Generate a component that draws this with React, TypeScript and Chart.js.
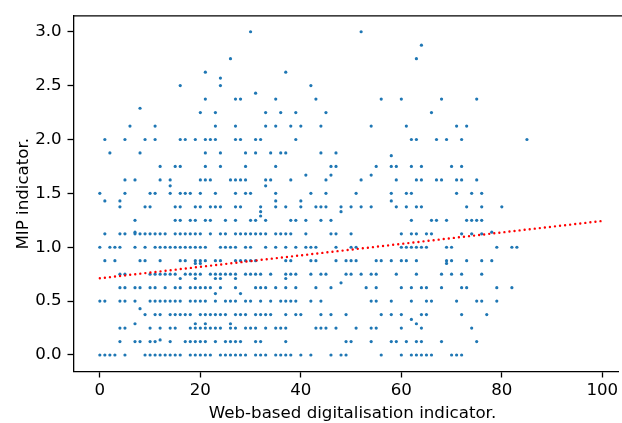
import { useEffect, useRef } from "react";
import { Chart, registerables } from "chart.js";

Chart.register(...registerables);

// MIP indicator levels (y) and the web-based digitalisation indicator values (x) found at each level
const mipLevels: number[] = [
  3.0, 2.875, 2.75, 2.625, 2.57, 2.5, 2.43, 2.375, 2.29, 2.25, 2.125, 2.0, 1.875, 1.85, 1.75, 1.67,
  1.625, 1.57, 1.5, 1.43, 1.375, 1.33, 1.29, 1.25, 1.14, 1.125, 1.0, 0.875, 0.85, 0.75, 0.71, 0.67,
  0.625, 0.57, 0.5, 0.43, 0.375, 0.33, 0.29, 0.25, 0.14, 0.125, 0.0,
];

const webAtLevel: number[][] = [
  [30, 52],
  [64],
  [26, 63],
  [21, 37],
  [24],
  [16, 24, 42],
  [31],
  [21, 27, 28, 35, 43, 56, 60, 68, 75],
  [8],
  [20, 23, 33, 36, 39, 45, 66],
  [6, 11, 23, 27, 33, 35, 38, 40, 44, 54, 61, 71, 73],
  [1, 5, 9, 11, 16, 17, 19, 21, 22, 23, 27, 28, 31, 32, 39, 62, 63, 67, 69, 72, 85],
  [2, 8, 21, 24, 29, 31, 34, 36, 37, 44, 47],
  [58],
  [12, 15, 16, 21, 24, 29, 35, 46, 47, 55, 58, 59, 62, 64, 70, 72],
  [41, 46, 54],
  [5, 7, 12, 14, 20, 21, 22, 26, 27, 28, 29, 33, 34, 38, 45, 52, 59, 63, 64, 67, 68, 71, 72, 75],
  [14, 33],
  [0, 5, 10, 11, 14, 16, 17, 18, 20, 23, 27, 29, 30, 35, 42, 45, 51, 58, 61, 62, 71, 74, 76],
  [1, 4, 35, 40, 58],
  [4, 9, 10, 15, 16, 19, 20, 22, 23, 24, 27, 28, 32, 35, 37, 40, 43, 44, 45, 48, 50, 52, 54, 59, 61, 63, 64, 73, 76, 80],
  [32, 48],
  [32],
  [7, 15, 16, 18, 19, 21, 22, 25, 27, 30, 31, 33, 38, 39, 41, 44, 46, 62, 66, 67, 69, 73, 74, 75, 76],
  [7, 78],
  [1, 4, 5, 7, 8, 9, 10, 11, 12, 13, 15, 16, 17, 18, 19, 20, 22, 24, 25, 27, 28, 29, 30, 31, 32, 33, 35, 36, 37, 38, 41, 46, 47, 50, 60, 62, 63, 65, 66, 72, 74, 76],
  [0, 2, 3, 4, 7, 9, 11, 12, 13, 14, 15, 16, 17, 18, 19, 20, 21, 24, 25, 26, 27, 29, 30, 33, 35, 37, 39, 41, 42, 43, 47, 50, 51, 60, 61, 62, 63, 64, 65, 69, 70, 79, 82, 83],
  [1, 3, 8, 9, 12, 16, 17, 19, 20, 21, 23, 24, 27, 28, 29, 30, 31, 37, 38, 42, 43, 47, 49, 50, 51, 55, 56, 58, 60, 61, 63, 69, 70, 73, 76, 78],
  [19, 20, 69],
  [4, 5, 10, 11, 12, 13, 14, 15, 17, 18, 19, 20, 22, 23, 24, 25, 26, 27, 29, 30, 31, 32, 34, 37, 38, 39, 42, 44, 45, 49, 50, 52, 54, 55, 59, 63, 68, 70, 72, 76],
  [16, 19, 23, 24, 27, 37],
  [48],
  [4, 5, 7, 8, 10, 11, 13, 15, 16, 18, 19, 20, 21, 22, 24, 27, 31, 32, 33, 35, 37, 39, 43, 46, 53, 55, 60, 62, 64, 65, 68, 72, 73, 79, 82],
  [23, 28],
  [0, 1, 4, 5, 7, 10, 11, 12, 13, 14, 15, 16, 18, 19, 20, 21, 23, 25, 26, 27, 29, 30, 32, 34, 36, 37, 38, 39, 42, 44, 54, 55, 58, 62, 65, 66, 71, 75, 76, 79],
  [8],
  [9, 11, 12, 14, 15, 16, 17, 18, 20, 21, 22, 23, 24, 25, 27, 28, 29, 31, 32, 33, 34, 37, 39, 40, 44, 46, 49, 56, 58, 60, 64, 65, 72, 77],
  [62],
  [7, 19, 21, 26, 63],
  [4, 5, 10, 12, 14, 15, 18, 19, 20, 21, 22, 23, 24, 26, 27, 29, 30, 31, 33, 35, 36, 37, 43, 44, 45, 47, 51, 54, 55, 60, 64, 74],
  [12],
  [4, 7, 8, 10, 11, 14, 17, 18, 19, 20, 21, 23, 25, 26, 27, 28, 31, 32, 37, 49, 50, 54, 58, 59, 61, 63, 64, 68, 75],
  [0, 1, 2, 3, 5, 9, 10, 11, 12, 13, 14, 15, 16, 18, 19, 20, 21, 22, 24, 25, 26, 27, 28, 29, 31, 32, 33, 35, 36, 37, 38, 40, 42, 46, 48, 49, 56, 60, 62, 63, 64, 65, 66, 70, 71, 72],
];

// Fitted trend line end points
const fitX: number[] = [0, 100];
const fitY: number[] = [0.712, 1.244];

// Tick labels
const xTicks: number[] = [0, 20, 40, 60, 80, 100];
const yTicks: number[] = [0, 0.5, 1.0, 1.5, 2.0, 2.5, 3.0];

const xTitle = "Web-based digitalisation indicator.";
const yTitle = "MIP indicator.";

const FONT = "'DejaVu Sans', sans-serif";
const FSIZE = 16.67;

const framePlugin = {
  id: "frame",
  afterDraw(chart: any) {
    const { ctx, chartArea, width } = chart;
    const { left, right, top, bottom } = chartArea;
    ctx.save();
    // top spine (the right spine lies outside the cropped picture)
    ctx.strokeStyle = "#000";
    ctx.lineWidth = 1.3;
    ctx.beginPath();
    ctx.moveTo(left, top);
    ctx.lineTo(width, top);
    ctx.stroke();
    // axis titles
    ctx.fillStyle = "#000";
    ctx.font = `${FSIZE}px ${FONT}`;
    ctx.textAlign = "center";
    ctx.textBaseline = "alphabetic";
    ctx.fillText(xTitle, 352.5, 418.3);
    ctx.translate(28, (top + bottom) / 2);
    ctx.rotate(-Math.PI / 2);
    ctx.fillText(yTitle, 0, 0);
    ctx.restore();
  },
};

export default function App() {
  const ref = useRef<HTMLCanvasElement | null>(null);

  useEffect(() => {
    if (!ref.current) return;
    const points: { x: number; y: number }[] = [];
    mipLevels.forEach((lvl, i) => {
      webAtLevel[i].forEach((x) => points.push({ x, y: lvl }));
    });
    const fit = fitX.map((x, i) => ({ x, y: fitY[i] }));

    const chart = new Chart(ref.current, {
      type: "scatter",
      data: {
        datasets: [
          {
            type: "line",
            data: fit,
            borderColor: "#ff0000",
            borderWidth: 2.4,
            borderDash: [0, 5.09],
            borderCapStyle: "round",
            pointRadius: 0,
            fill: false,
            order: 0,
          } as any,
          {
            data: points,
            backgroundColor: "#1f77b4",
            borderWidth: 0,
            pointRadius: 1.6,
            order: 1,
          },
        ],
      },
      options: {
        animation: false,
        responsive: false,
        layout: { padding: { left: 0, top: 9, right: 0.5, bottom: 0 } },
        plugins: { legend: { display: false }, tooltip: { enabled: false } },
        scales: {
          x: {
            type: "linear",
            min: -5.28,
            max: 103.12,
            afterBuildTicks: (s: any) => {
              s.ticks = xTicks.map((v) => ({ value: v }));
            },
            afterFit: (s: any) => {
              s.height = 51.3;
            },
            grid: { display: true, drawOnChartArea: false, drawTicks: true, tickLength: 5.8, tickColor: "#000", tickWidth: 1.3 },
            border: { display: true, color: "#000", width: 1.3 },
            ticks: {
              color: "#000",
              padding: 3,
              font: { family: FONT, size: FSIZE },
              callback: (v: any) => String(v),
              maxRotation: 0,
              autoSkip: false,
            },
          },
          y: {
            type: "linear",
            min: -0.155,
            max: 3.148,
            afterBuildTicks: (s: any) => {
              s.ticks = yTicks.map((v) => ({ value: v }));
            },
            afterFit: (s: any) => {
              s.width = 73.3;
            },
            grid: { display: true, drawOnChartArea: false, drawTicks: true, tickLength: 5.8, tickColor: "#000", tickWidth: 1.3 },
            border: { display: true, color: "#000", width: 1.3 },
            ticks: {
              color: "#000",
              padding: 5.8,
              font: { family: FONT, size: FSIZE },
              callback: (v: any) => Number(v).toFixed(1),
              autoSkip: false,
            },
          },
        },
      },
      plugins: [framePlugin],
    });
    return () => chart.destroy();
  }, []);

  return (
    <div style={{ position: "absolute", left: 0, top: 0, width: 622, height: 423, overflow: "hidden", background: "#fff" }}>
      <canvas ref={ref} width={622} height={423} style={{ display: "block", width: 622, height: 423 }} />
    </div>
  );
}
